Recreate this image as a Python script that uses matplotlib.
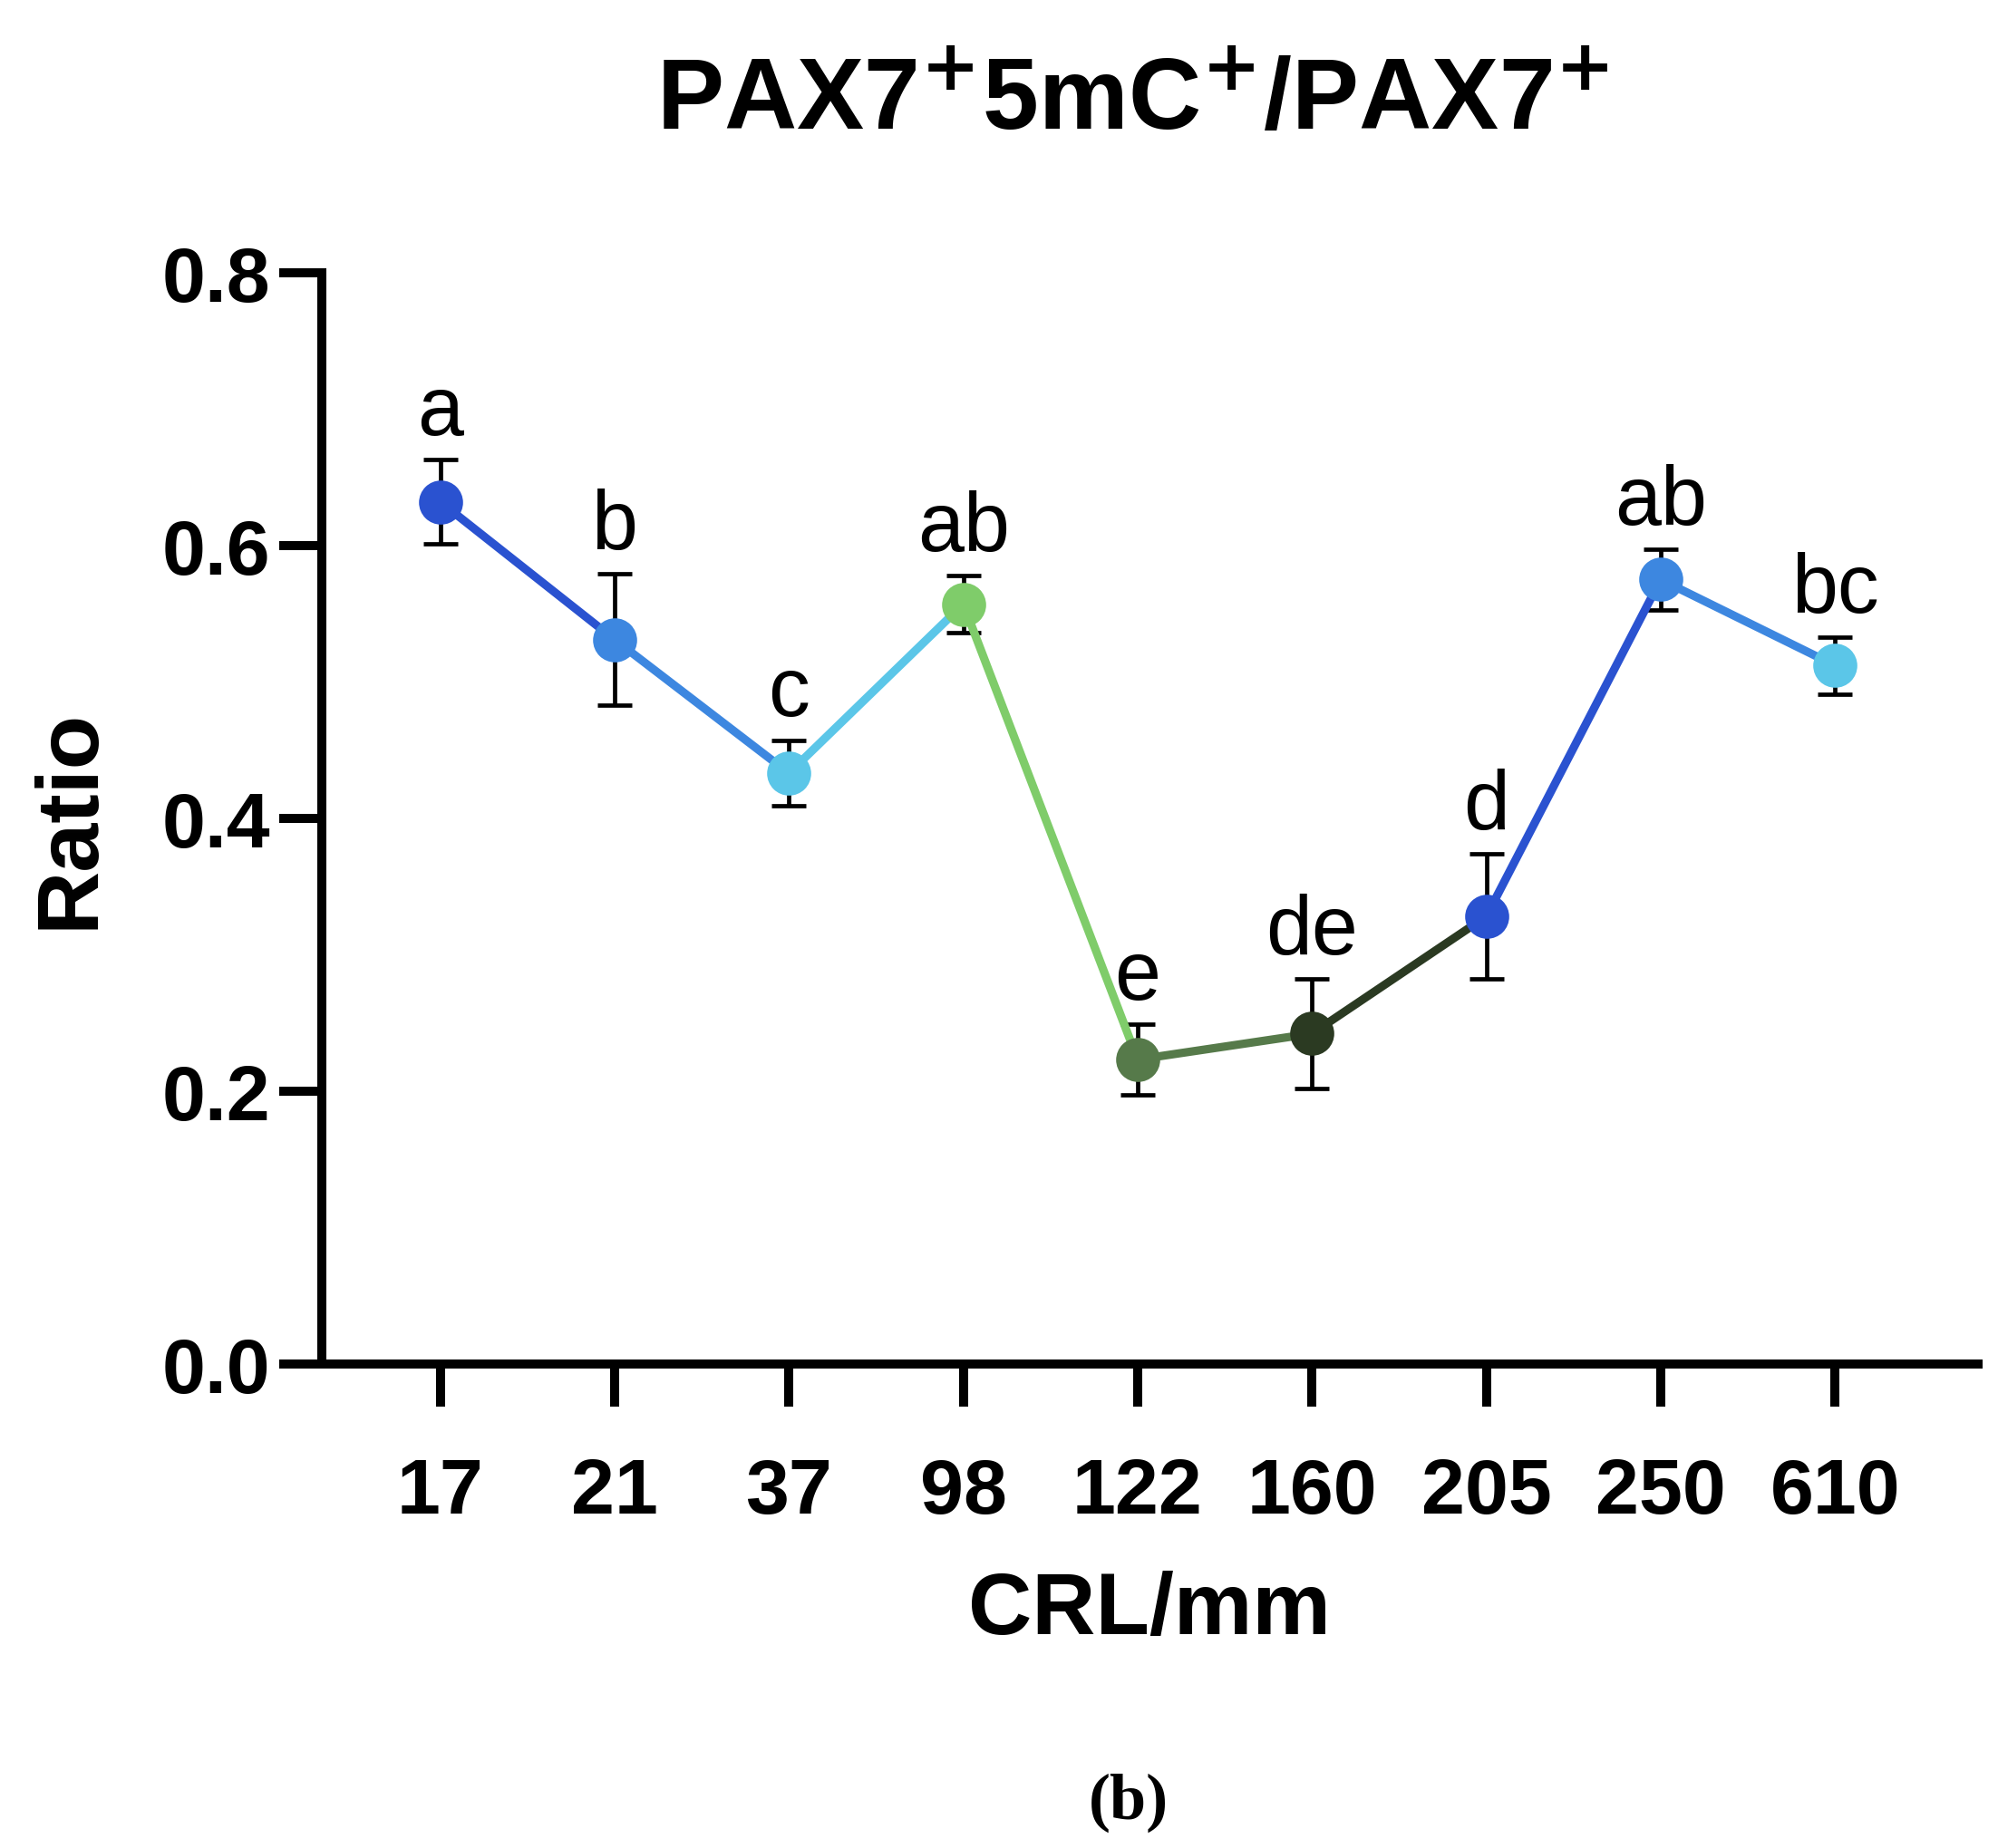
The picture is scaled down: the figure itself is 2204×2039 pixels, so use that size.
import matplotlib
matplotlib.use("Agg")
import matplotlib.pyplot as plt

categories = ["17", "21", "37", "98", "122", "160", "205", "250", "610"]
values = [0.632, 0.531, 0.433, 0.557, 0.223, 0.242, 0.328, 0.575, 0.512]
errors = [0.031, 0.048, 0.024, 0.021, 0.026, 0.040, 0.046, 0.022, 0.021]
letters = ["a", "b", "c", "ab", "e", "de", "d", "ab", "bc"]
colors = ["#2a52d0", "#3d87e0", "#5bc6e8", "#7fcc6a", "#567a4a", "#2b3a22", "#2a52d0", "#3d87e0", "#5bc6e8"]

plt.rcParams['font.family'] = ['Liberation Sans', 'DejaVu Sans']
fig = plt.figure(figsize=(11.02, 10.2), dpi=200)
ax = fig.add_axes([0.161, 0.262, 0.829, 0.59])
x = list(range(len(categories)))

for i in range(len(x) - 1):
    ax.plot(x[i:i+2], values[i:i+2], color=colors[i], lw=3.3, zorder=2, solid_capstyle='butt')
for i in x:
    ax.errorbar(x[i], values[i], yerr=errors[i], fmt='none', ecolor='black',
                elinewidth=1.7, capsize=7, capthick=1.7, zorder=1)
    ax.plot(x[i], values[i], 'o', ms=17.5, color=colors[i], mec='none', zorder=3)
    ax.text(x[i], values[i] + errors[i] + 0.006, letters[i], ha='center', va='bottom',
            fontsize=33)

ax.set_xlim(-0.68, 8.82)
ax.set_ylim(0, 0.8)
ax.set_yticks([0, 0.2, 0.4, 0.6, 0.8])
ax.set_yticklabels(["0.0", "0.2", "0.4", "0.6", "0.8"])
ax.set_xticks(x)
ax.set_xticklabels(categories)
for s in ['top', 'right']:
    ax.spines[s].set_visible(False)
for s in ['left', 'bottom']:
    ax.spines[s].set_linewidth(3.6)
ax.tick_params(axis='both', width=3.6, length=17, labelsize=31, direction='out')
ax.tick_params(axis='x', pad=20)
for lab in ax.get_xticklabels() + ax.get_yticklabels():
    lab.set_fontweight('bold')
ax.set_ylabel("Ratio", fontsize=35, fontweight='bold', labelpad=20)
ax.set_xlabel("CRL/mm", fontsize=35, fontweight='bold', labelpad=16)

fig.text(0.567, 0.944, r"PAX7$^{\mathbf{+}}$5mC$^{\mathbf{+}}$/PAX7$^{\mathbf{+}}$",
         ha='center', va='center', fontsize=40, fontweight='bold')
fig.text(0.565, 0.025, "(b)", ha='center', va='center', fontsize=26,
         fontweight='bold', family='Liberation Serif')
fig.savefig("out.png", dpi=200)
